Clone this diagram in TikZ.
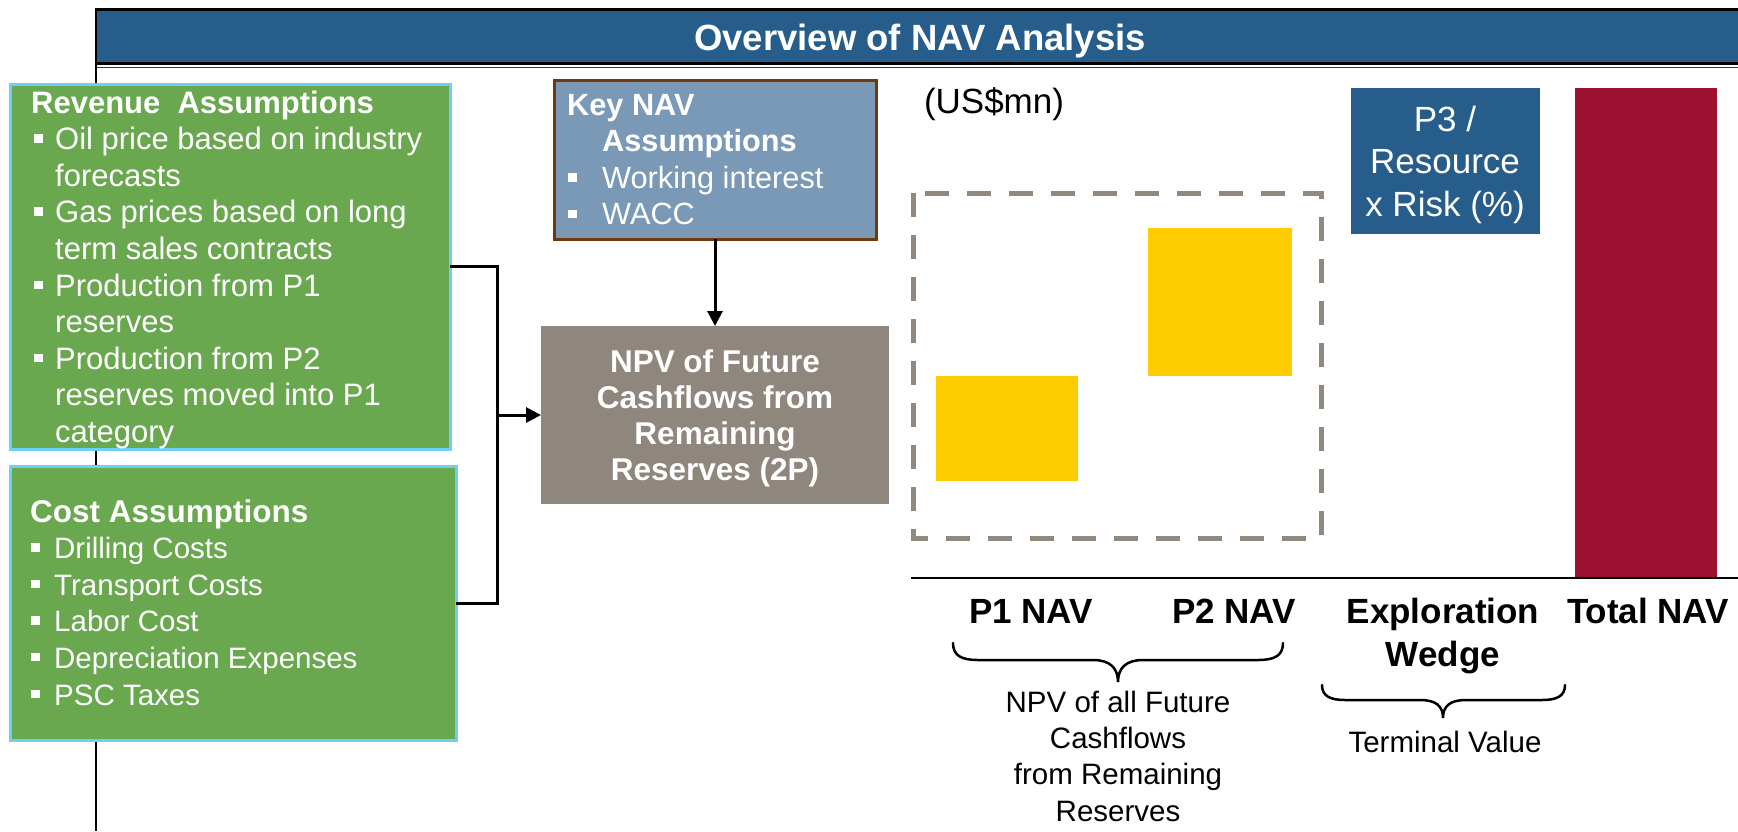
\documentclass[tikz,border=0pt]{standalone}
\usepackage{fontspec}
\setmainfont{Liberation Sans}
\usetikzlibrary{arrows.meta}

\definecolor{navblue}{HTML}{265D8A}
\definecolor{boxgreen}{HTML}{6AA84F}
\definecolor{edgecyan}{HTML}{6DCFF6}
\definecolor{steel}{HTML}{7A99B7}
\definecolor{rust}{HTML}{703A0E}
\definecolor{taupe}{HTML}{8F867D}
\definecolor{gold}{HTML}{FFCC00}
\definecolor{wine}{HTML}{9E1030}
\definecolor{dashgray}{HTML}{918880}

% square list marker and bullet line starts
\newcommand\sqbullet[1]{\rule[#1]{8.5pt}{8.5pt}}
\newcommand\bulitem[3]{\hspace*{#1}\makebox[#2][l]{\sqbullet{#3}}}

\begin{document}
\begin{tikzpicture}[x=1pt,y=-1pt,
  panel/.style={anchor=north west, inner sep=0, outer sep=0},
  greenbox/.style={panel, fill=boxgreen, draw=edgecyan, line width=3},
  wire/.style={line width=3},
  link/.style={line width=3, -{Triangle[length=15pt,width=15pt]}},
  boxtext/.style={anchor=base west, inner sep=0, text=white},
  axislabel/.style={anchor=base, inner sep=0, font=\fontsize{35}{43}\selectfont\bfseries},
  note/.style={anchor=base, inner sep=0, font=\fontsize{29.5}{36.4}\selectfont},
  bracepath/.style={line width=2.5, line cap=round}]
\useasboundingbox (0,0) rectangle (1738,831);

% title banner and frame
\node[panel, fill=navblue, minimum width=1642, minimum height=52] (banner) at (96,11) {};
\draw[line width=3] (96,9.5) -- (1738,9.5);
\draw[line width=3] (96,63.5) -- (1738,63.5);
\draw[line width=1.5, black!80] (96,67.5) -- (1738,67.5);
\draw[line width=2.5] (96,8) -- (96,831);
\node[anchor=base, inner sep=0, text=white, font=\fontsize{36.5}{40}\selectfont\bfseries] (titletext) at (920,50) {Overview of NAV Analysis};

% input boxes
\node[greenbox, minimum width=440, minimum height=365] (rev) at (10,84) {};
\node[greenbox, minimum width=446, minimum height=274] (cost) at (10,466) {};
\node[panel, fill=steel, draw=rust, line width=3, minimum width=322, minimum height=159] (key) at (554,80) {};
\node[panel, fill=taupe, minimum width=348, minimum height=178] (npv) at (541,326) {};

\node[boxtext, font=\fontsize{31}{36.6}\selectfont] (revtext) at (31,113) {\parbox[t]{420pt}{\raggedright
  \textbf{Revenue\ \ Assumptions}\\
  \bulitem{3pt}{21pt}{7pt}Oil price based on industry\\
  \hspace*{24pt}forecasts\\
  \bulitem{3pt}{21pt}{7pt}Gas prices based on long\\
  \hspace*{24pt}term sales contracts\\
  \bulitem{3pt}{21pt}{7pt}Production from P1\\
  \hspace*{24pt}reserves\\
  \bulitem{3pt}{21pt}{7pt}Production from P2\\
  \hspace*{24pt}reserves moved into P1\\
  \hspace*{24pt}category}};

\node[boxtext, font=\fontsize{29.5}{36.6}\selectfont] (costtext) at (30,522) {\parbox[t]{420pt}{\raggedright
  {\fontsize{31.5}{36.6}\selectfont\bfseries Cost Assumptions}\\
  \bulitem{1pt}{23pt}{7pt}Drilling Costs\\
  \bulitem{1pt}{23pt}{7pt}Transport Costs\\
  \bulitem{1pt}{23pt}{7pt}Labor Cost\\
  \bulitem{1pt}{23pt}{7pt}Depreciation Expenses\\
  \bulitem{1pt}{23pt}{7pt}PSC Taxes}};

\node[boxtext, font=\fontsize{30.7}{36.5}\selectfont] (keytext) at (567,115) {\parbox[t]{300pt}{\raggedright
  \textbf{Key NAV}\\
  \hspace*{35pt}\textbf{Assumptions}\\
  \bulitem{1pt}{34pt}{6.5pt}Working interest\\
  \bulitem{1pt}{34pt}{6.5pt}WACC}};

\node[anchor=base, inner sep=0, text=white, font=\fontsize{31.5}{36.3}\selectfont\bfseries] (npvtext) at (715,372) {\parbox[t]{340pt}{\centering
  NPV of Future\\Cashflows from\\Remaining\\Reserves (2P)}};

% connectors into the NPV box
\coordinate (join) at (497,415);
\draw[wire] (rev.east) -| (join);
\draw[wire] (cost.east) -| (join);
\draw[link] (join) -- (npv.west);
\draw[link] (key.south) -- (npv.north);

% chart area
\node[anchor=base, inner sep=0, font=\fontsize{35}{40}\selectfont] (unit) at (994,113) {(US\$mn)};
\draw[dashgray, line width=5, dash pattern=on 24pt off 18pt] (913,193) rectangle (1321,538);
\node[panel, fill=gold, minimum width=142, minimum height=105] (barone) at (936,376) {};
\node[panel, fill=gold, minimum width=144, minimum height=148] (bartwo) at (1148,228) {};
\node[panel, fill=navblue, minimum width=189, minimum height=146] (p3box) at (1351,88) {};
\node[anchor=base, inner sep=0, text=white, font=\fontsize{35}{42.5}\selectfont] (p3text) at (1445,131) {\parbox[t]{190pt}{\centering
  P3 /\\Resource\\x Risk (\%)}};
\node[panel, fill=wine, minimum width=142, minimum height=489] (total) at (1575,88) {};
\draw[line width=2.5] (911,578) -- (1738,578);

% category labels
\node[axislabel] (pone) at (1031,623) {P1 NAV};
\node[axislabel] (ptwo) at (1234,623) {P2 NAV};
\node[axislabel] (expl) at (1443,623) {\parbox[t]{220pt}{\centering Exploration\\Wedge}};
\node[axislabel] (tnav) at (1648,623) {Total NAV};

% grouping braces and their notes
\draw[bracepath] (953,643) .. controls (953,656) and (962,660) .. (978,660) -- (1093,660)
  .. controls (1110,660) and (1118,668) .. (1118,682)
  .. controls (1118,668) and (1126,660) .. (1143,660) -- (1258,660)
  .. controls (1274,660) and (1283,656) .. (1283,643);
\node[note] (npvnote) at (1118,712) {\parbox[t]{300pt}{\centering
  NPV of all Future\\Cashflows\\from Remaining\\Reserves}};

\draw[bracepath] (1322,685) .. controls (1322,696) and (1330,700) .. (1345,700) -- (1420,700)
  .. controls (1436,700) and (1443,706) .. (1443,718)
  .. controls (1443,706) and (1450,700) .. (1466,700) -- (1542,700)
  .. controls (1557,700) and (1565,696) .. (1565,685);
\node[note] (termnote) at (1445,752) {Terminal Value};
\end{tikzpicture}
\end{document}
